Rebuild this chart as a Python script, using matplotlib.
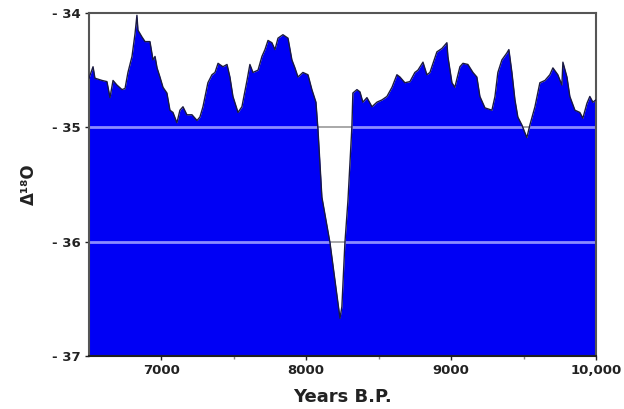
import numpy as np
import matplotlib
matplotlib.use("Agg")
import matplotlib.pyplot as plt

# Delta 18O record
years = [6500, 6528, 6541, 6590, 6624, 6645, 6666, 6693, 6728, 6749, 6769, 6797,
         6818, 6831, 6838, 6866, 6887, 6921, 6942, 6956, 6970, 6990, 7011, 7038,
         7059, 7080, 7107, 7128, 7149, 7176, 7211, 7246, 7266, 7287, 7321, 7349,
         7370, 7391, 7425, 7453, 7473, 7494, 7529, 7556, 7591, 7611, 7632, 7667,
         7694, 7715, 7736, 7763, 7784, 7805, 7839, 7874, 7901, 7922, 7943, 7977,
         8012, 8039, 8067, 8081, 8108, 8164, 8233, 8246, 8267, 8288, 8315, 8322,
         8350, 8371, 8391, 8419, 8454, 8488, 8523, 8557, 8592, 8626, 8647, 8681,
         8716, 8750, 8771, 8806, 8833, 8854, 8875, 8902, 8937, 8971, 8978, 9006,
         9026, 9061, 9082, 9116, 9151, 9178, 9199, 9234, 9282, 9303, 9323, 9351,
         9385, 9399, 9420, 9441, 9461, 9489, 9523, 9544, 9579, 9613, 9648, 9682,
         9703, 9737, 9765, 9772, 9800, 9820, 9855, 9889, 9910, 9938, 9958, 9979,
         10000]
delta18o = [-34.57, -34.47, -34.57, -34.59, -34.60, -34.74, -34.59, -34.63, -34.67, -34.66, -34.52, -34.38,
            -34.18, -34.02, -34.15, -34.21, -34.25, -34.25, -34.41, -34.38, -34.48, -34.56, -34.65, -34.70,
            -34.85, -34.87, -34.96, -34.85, -34.82, -34.89, -34.89, -34.94, -34.91, -34.82, -34.61, -34.54,
            -34.52, -34.44, -34.47, -34.45, -34.56, -34.73, -34.87, -34.82, -34.59, -34.45, -34.52, -34.50,
            -34.38, -34.32, -34.24, -34.26, -34.32, -34.22, -34.19, -34.22, -34.41, -34.48, -34.56, -34.52,
            -34.54, -34.67, -34.78, -35.02, -35.61, -36.01, -36.67, -36.57, -36.01, -35.64, -35.00, -34.70,
            -34.67, -34.69, -34.78, -34.74, -34.82, -34.78, -34.76, -34.73, -34.65, -34.54, -34.56, -34.61,
            -34.60, -34.52, -34.50, -34.43, -34.54, -34.52, -34.44, -34.34, -34.31, -34.26, -34.38, -34.61,
            -34.65, -34.47, -34.44, -34.45, -34.52, -34.56, -34.73, -34.83, -34.85, -34.73, -34.52, -34.41,
            -34.35, -34.32, -34.52, -34.76, -34.91, -34.98, -35.09, -34.98, -34.82, -34.61, -34.59, -34.54,
            -34.48, -34.54, -34.63, -34.43, -34.56, -34.73, -34.85, -34.87, -34.92, -34.79, -34.73, -34.78,
            -34.76]

x_ticks = [7000, 8000, 9000, 10000]
x_tick_labels = ["7000", "8000", "9000", "10,000"]
y_ticks = [-37, -36, -35, -34]
y_tick_labels = ["- 37", "- 36", "- 35", "- 34"]
grid_levels = [-35, -36]

plt.rcParams['font.family'] = ['DejaVu Sans']
plt.rcParams['font.weight'] = 'bold'

fig = plt.figure(figsize=(6.24, 4.09), dpi=100)
ax = fig.add_axes([0.1426, 0.1296, 0.8124, 0.8386])

# grey lines behind the fill (seen in the white gaps)
for lvl in grid_levels:
    ax.axhline(lvl, color="#9a9a9a", lw=1.2, zorder=1)

poly = ax.fill_between(years, delta18o, -37, color="#0000f5", lw=0, zorder=2)
ax.plot(years, delta18o, color="#1a1a40", lw=1.0, zorder=3)

# light lines over the blue fill, clipped to the fill
for lvl in grid_levels:
    ln = ax.axhline(lvl, color="#8c8cff", lw=2.0, zorder=2.5)
    ln.set_clip_path(poly.get_paths()[0], ax.transData)

ax.set_xlim(6500, 10000)
ax.set_ylim(-37, -34)
ax.set_xticks(x_ticks)
ax.set_xticklabels(x_tick_labels)
ax.set_xticks([7500, 8500, 9500], minor=True)
ax.set_yticks(y_ticks)
ax.set_yticklabels(y_tick_labels)
ax.tick_params(axis="both", which="major", length=3, width=1, labelsize=9.5,
               colors="#222222", pad=3)
ax.tick_params(axis="x", which="minor", length=2, width=1, color="#888888")

for side in ["top", "left", "right"]:
    ax.spines[side].set_color("#555555")
    ax.spines[side].set_linewidth(1.5)
ax.spines["bottom"].set_color("#202020")
ax.spines["bottom"].set_linewidth(1.5)

ax.set_xlabel("Years B.P.", fontsize=13, fontweight="bold", color="#222222", labelpad=8)
ax.set_ylabel("Δ¹⁸O", fontsize=12, fontweight="bold", color="#222222", labelpad=10)

fig.savefig("out.png", dpi=100)
